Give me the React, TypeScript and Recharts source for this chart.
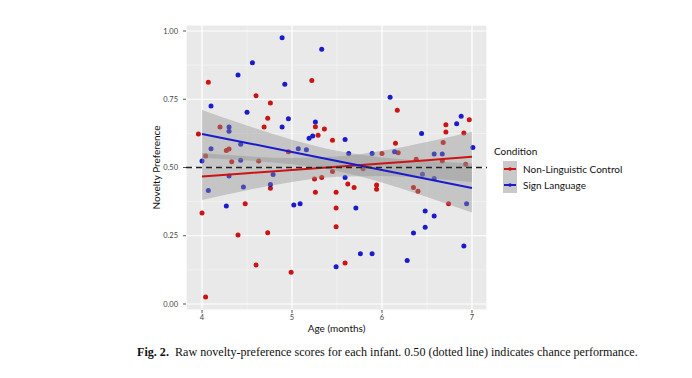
import React from 'react';
import {
  ComposedChart, Scatter, Area, Line, XAxis, YAxis, CartesianGrid, ReferenceLine,
} from 'recharts';

// raw scores (age in months, novelty preference)
const controlAge = [4.07, 4.6, 4.76, 4.73, 4.2, 4.69, 3.96, 4.27, 4.3, 4.04, 4.33, 4.63, 5.22, 5.26, 5.36, 5.29, 5.45, 4.96, 6.0, 6.17, 6.97, 6.71, 6.71, 6.91, 6.15, 6.68, 6.18, 6.38, 6.67, 6.93, 4.76, 4.48, 4.0, 4.4, 4.73, 4.6, 4.04, 5.45, 5.79, 5.25, 5.33, 5.62, 5.69, 5.94, 5.94, 5.26, 5.49, 5.49, 5.49, 5.59, 4.99, 6.35, 6.4, 6.74];
const controlScore = [0.812, 0.763, 0.736, 0.68, 0.648, 0.648, 0.623, 0.562, 0.568, 0.542, 0.521, 0.524, 0.819, 0.649, 0.641, 0.618, 0.6, 0.558, 0.551, 0.71, 0.675, 0.657, 0.63, 0.626, 0.589, 0.592, 0.554, 0.53, 0.524, 0.512, 0.424, 0.367, 0.333, 0.253, 0.261, 0.143, 0.026, 0.485, 0.495, 0.458, 0.463, 0.44, 0.427, 0.436, 0.42, 0.409, 0.409, 0.352, 0.283, 0.15, 0.116, 0.427, 0.413, 0.367];
const signAge = [4.89, 4.56, 4.4, 4.92, 4.1, 4.5, 4.96, 4.3, 4.3, 4.89, 4.43, 4.1, 4.0, 4.43, 5.33, 5.26, 5.23, 5.19, 5.59, 5.07, 5.16, 5.63, 5.89, 6.09, 6.88, 6.83, 6.44, 7.01, 6.14, 6.58, 6.67, 4.3, 4.79, 4.07, 4.46, 4.76, 4.27, 5.59, 5.02, 5.09, 5.71, 5.76, 5.89, 5.49, 6.45, 6.58, 6.94, 6.48, 6.58, 6.48, 6.35, 6.91, 6.28];
const signScore = [0.975, 0.884, 0.839, 0.805, 0.725, 0.702, 0.679, 0.648, 0.633, 0.648, 0.585, 0.569, 0.524, 0.527, 0.933, 0.667, 0.615, 0.607, 0.603, 0.569, 0.565, 0.551, 0.551, 0.757, 0.688, 0.66, 0.625, 0.573, 0.558, 0.549, 0.549, 0.469, 0.474, 0.416, 0.429, 0.438, 0.359, 0.463, 0.363, 0.367, 0.352, 0.184, 0.184, 0.136, 0.475, 0.46, 0.367, 0.341, 0.322, 0.281, 0.26, 0.212, 0.159];

// fitted lines and confidence bands, read at half-month steps
const fitAge = [4.0, 4.5, 5.0, 5.5, 6.0, 6.5, 7.0];
const signFit = [0.623, 0.59, 0.557, 0.524, 0.491, 0.458, 0.425];
const signHalfWidth = [0.088, 0.064, 0.045, 0.037, 0.046, 0.066, 0.09];
const controlFit = [0.467, 0.479, 0.491, 0.503, 0.515, 0.527, 0.539];
const controlHalfWidth = [0.086, 0.062, 0.044, 0.037, 0.046, 0.066, 0.092];

const ageTicks = [4, 5, 6, 7];
const ageMinorTicks = [4.5, 5.5, 6.5];
const scoreTicks = [0, 0.25, 0.5, 0.75, 1];
const scoreMinorTicks = [0.125, 0.375, 0.625, 0.875];

const RED = '#cc1414';
const BLUE = '#1a1ccc';
const xDomain = [3.822, 7.167];
const yDomain = [-0.022, 1.022];

const controlPts = controlAge.map((a, i) => ({ age: a, score: controlScore[i] }));
const signPts = signAge.map((a, i) => ({ age: a, score: signScore[i] }));
const fitRows = fitAge.map((a, i) => ({
  age: a,
  signFit: signFit[i],
  controlFit: controlFit[i],
  signBand: [signFit[i] - signHalfWidth[i], signFit[i] + signHalfWidth[i]],
  controlBand: [controlFit[i] - controlHalfWidth[i], controlFit[i] + controlHalfWidth[i]],
}));

const dot = (color: string) => (p: any) => <circle cx={p.cx} cy={p.cy} r={2.5} fill={color} />;

const fmt = (v: number) => v.toFixed(2);

function LegendBox() {
  const item = (color: string, label: string) => (
    <div style={{ display: 'flex', alignItems: 'center', height: 16 }}>
      <svg width={14} height={16} style={{ background: '#c9c9c9' }}>
        <line x1={1} y1={8} x2={13} y2={8} stroke={color} strokeWidth={2} />
        <circle cx={7} cy={8} r={1.8} fill={color} />
      </svg>
      <span style={{ marginLeft: 6 }}>{label}</span>
    </div>
  );
  return (
    <div style={{ fontFamily: 'Lato, sans-serif', fontSize: 10, color: '#111', lineHeight: '12px' }}>
      <div style={{ marginBottom: 4 }}>Condition</div>
      <div style={{ marginLeft: 9 }}>
        {item(RED, 'Non-Linguistic Control')}
        {item(BLUE, 'Sign Language')}
      </div>
    </div>
  );
}

export default function App() {
  const tickStyle = { fontSize: 7.5, fill: '#444', fontFamily: 'Lato, sans-serif' };
  return (
    <div style={{ position: 'relative', width: 692, height: 378, margin: -8, background: '#fff' }}>
      <ComposedChart
        width={692}
        height={340}
        data={fitRows}
        margin={{ top: 25, right: 205, left: 126, bottom: 0 }}
        style={{ position: 'absolute', left: 0, top: 0 }}
      >
        <XAxis xAxisId="minor" dataKey="age" type="number" domain={xDomain} ticks={ageMinorTicks} allowDataOverflow hide />
        <YAxis yAxisId="minor" type="number" domain={yDomain} ticks={scoreMinorTicks} allowDataOverflow hide />
        <CartesianGrid xAxisId="minor" yAxisId="minor" fill="#e9e9e9" stroke="#f6f6f6" strokeWidth={0.6} />
        <CartesianGrid stroke="#ffffff" strokeWidth={1.2} />
        <XAxis
          dataKey="age"
          type="number"
          domain={xDomain}
          ticks={ageTicks}
          allowDataOverflow
          height={30}
          axisLine={false}
          tickSize={3}
          tickMargin={2}
          tickLine={{ stroke: '#555' }}
          tick={tickStyle}
          label={{ value: 'Age (months)', position: 'insideBottom', offset: 8, fontSize: 10, fill: '#111', fontFamily: 'Lato, sans-serif' }}
        />
        <YAxis
          type="number"
          domain={yDomain}
          ticks={scoreTicks}
          allowDataOverflow
          width={60}
          axisLine={false}
          tickSize={3}
          tickMargin={5}
          tickLine={{ stroke: '#555' }}
          tick={tickStyle}
          tickFormatter={fmt}
          label={{ value: 'Novelty Preference', angle: -90, position: 'center', dx: 0, fontSize: 10, fill: '#111', fontFamily: 'Lato, sans-serif' }}
        />
        <Scatter data={controlPts} dataKey="score" fill={RED} shape={dot(RED)} isAnimationActive={false} zIndex={50} />
        <Scatter data={signPts} dataKey="score" fill={BLUE} shape={dot(BLUE)} isAnimationActive={false} zIndex={50} />
        <Area dataKey="controlBand" type="monotone" stroke="none" fill="#8f8f8f" fillOpacity={0.4} isAnimationActive={false} />
        <Area dataKey="signBand" type="monotone" stroke="none" fill="#8f8f8f" fillOpacity={0.4} isAnimationActive={false} />
        <Line dataKey="controlFit" type="linear" stroke={RED} strokeWidth={2} dot={false} isAnimationActive={false} />
        <Line dataKey="signFit" type="linear" stroke={BLUE} strokeWidth={2} dot={false} isAnimationActive={false} />
        <ReferenceLine y={0.5} stroke="#222" strokeWidth={1.5} strokeDasharray="6 4" zIndex={700} />
      </ComposedChart>
      <div style={{ position: 'absolute', left: 494, top: 145 }}>
        <LegendBox />
      </div>
      <div
        style={{
          position: 'absolute', left: 137, top: 345, width: 540,
          fontFamily: '"Liberation Serif", serif', fontSize: 12.1, color: '#111', whiteSpace: 'nowrap',
        }}
      >
        <b>Fig. 2.</b>&nbsp; Raw novelty-preference scores for each infant. 0.50 (dotted line) indicates chance performance.
      </div>
    </div>
  );
}
